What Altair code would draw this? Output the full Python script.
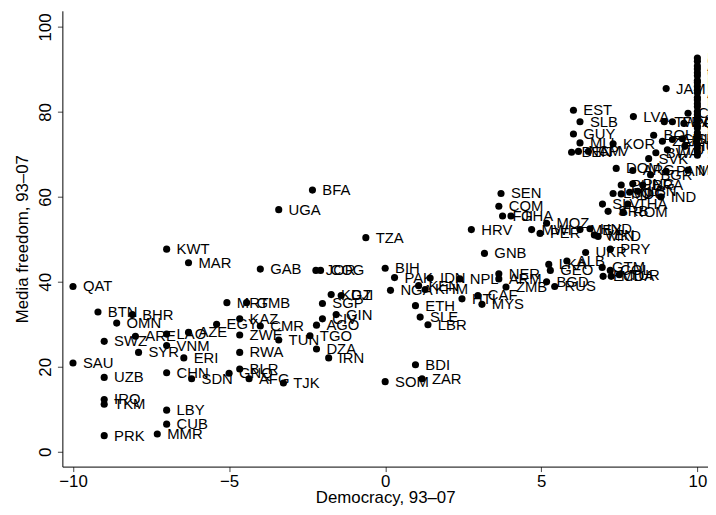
import altair as alt
import pandas as pd

codes = [
    "QAT","KWT","MAR","BTN","BHR","OMN","SWZ","ARE","LAO","AZE","EGY","SYR","VNM","ERI","SAU","UZB","CHN","SDN",
    "IRQ","TKM","LBY","CUB","MMR","PRK","MRT","GMB","KAZ","CMR","ZWE","TUN","RWA","GNQ","BLR","AFG","TJK",
    "KGZ","DJI","SGP","GIN","CIV","AGO","TGO","DZA","IRN","SOM","BDI","ZAR","BFA","UGA","TZA","GAB","JOR","COG",
    "BIH","PAK","NGA","IDN","KEN","KHM","ETH","SLE","LBR","NPL","HTI","CAF","MYS","NER","ARM","ZMB","GNB","HRV",
    "SEN","COM","FJI","GHA","MWI","PER","MOZ","LKA","GEO","ALB","BGD","RUS","UKR","PRY","MEX","HND","VEN","MKD",
    "GTM","COL","ECU","MDA","TUR","SLV","THA","SRB","ROM","PHL","PNG","BRA","LSO","MDG","NIC","LBN","IND",
    "DOM","ARG","BGR","PAN","MNG","BEN","NAM","CPV","EST","SLB","GUY","MLI","KOR","LVA","JAM","TWN","FRA","CRI",
    "POL","BOL","ZAF","CHL","ISR","BWA","SVK","LTU","HUN",
    "USA","CAN","AUS","NZL","GBR","IRL","NLD","BEL","LUX","DEU","AUT","CHE","DNK","NOR","SWE","FIN","ISL","ESP",
    "PRT","ITA","GRC","CYP","JPN","URY","MUS","TTO","CZE","SVN",
]
democracy = [
    -10.0,-7.0,-6.3,-9.2,-8.1,-8.6,-9.0,-8.0,-7.0,-6.3,-5.4,-7.9,-7.0,-6.45,-10.0,-9.0,-7.0,-6.2,
    -9.0,-9.0,-7.0,-7.0,-7.3,-9.0,-5.07,-4.44,-4.66,-4.0,-4.66,-3.41,-4.66,-5.0,-4.66,-4.36,-3.26,
    -1.73,-1.41,-2.01,-1.57,-2.01,-2.2,-2.41,-2.2,-1.81,0.0,0.97,1.18,-2.33,-3.41,-0.62,-4.0,-2.22,-2.07,
    0.0,0.3,0.17,1.44,1.07,1.28,0.97,1.12,1.37,2.39,2.46,2.97,3.10,3.64,3.64,3.87,3.18,2.76,
    3.71,3.64,3.76,4.03,4.69,4.96,5.17,5.24,5.29,5.82,5.17,5.43,6.42,7.21,6.24,6.56,6.70,6.82,
    6.95,7.21,6.98,7.24,7.5,6.96,7.77,7.14,7.62,7.56,7.93,8.25,7.30,7.56,7.83,8.09,8.83,
    7.4,7.93,8.5,9.0,9.7,5.97,6.19,6.51,6.03,6.24,6.03,6.24,7.30,7.95,9.0,8.94,9.20,9.7,
    9.57,8.6,8.88,9.2,9.52,8.67,8.44,9.04,9.6,
    10,10,10,10,10,10,10,10,10,10,10,10,10,10,10,10,10,10,
    10,10,10,10,10,10,10,10,10,10,
]
media = [
    38.9,47.7,44.5,32.9,32.3,30.3,26.0,27.2,27.7,28.1,30.0,23.4,25.0,22.1,20.9,17.5,18.6,17.2,
    12.3,11.2,9.8,6.5,4.2,3.8,35.1,35.1,31.3,29.6,27.5,26.3,23.4,18.5,19.5,17.2,16.2,
    37.0,36.8,34.9,32.3,31.3,29.8,27.3,24.2,22.1,16.5,20.5,17.2,61.6,57.0,50.4,43.0,42.7,42.7,
    43.2,41.0,38.0,40.9,39.1,38.2,34.4,31.7,29.9,40.7,36.0,36.8,34.7,41.9,40.7,38.8,46.7,52.3,
    60.8,57.8,55.5,55.5,52.3,51.4,53.8,44.1,42.7,44.9,40.0,38.9,46.9,47.7,52.3,52.5,51.0,50.7,
    43.4,42.7,41.3,41.3,41.7,58.3,58.3,56.6,56.4,62.8,63.1,62.8,60.8,60.7,61.1,61.3,60.0,
    66.7,66.2,65.2,66.0,66.3,70.5,70.7,70.7,80.4,77.7,74.8,72.7,72.5,78.9,85.5,77.7,77.7,79.7,
    77.3,74.5,73.1,73.5,73.7,70.4,69.0,71.1,71.9,
    92.7,91.9,90.8,90.1,89.2,88.5,87.4,86.9,86.0,85.1,84.5,83.4,82.8,81.9,81.2,80.1,79.4,78.6,
    77.9,76.8,76.2,75.1,74.3,73.6,72.4,71.5,70.6,69.8,
]

df = pd.DataFrame({"code": codes, "dem": democracy, "mf": media})

FONT = "Liberation Sans"

x = alt.X("dem:Q", title="Democracy, 93\u201307",
          scale=alt.Scale(domain=[-10.34, 10.34], nice=False, zero=False),
          axis=alt.Axis(values=[-10, -5, 0, 5, 10], grid=False, domainColor="#000000",
                        tickColor="#444444", tickSize=5, labelFont=FONT, labelFontSize=17,
                        labelColor="#000000", labelPadding=2, titleFont=FONT, titleFontSize=17,
                        titleFontWeight="normal", titleColor="#000000", titlePadding=0,
                        labelFlush=False))
y = alt.Y("mf:Q", title="Media freedom, 93\u201307",
          scale=alt.Scale(domain=[-3.49, 103.8], nice=False, zero=False),
          axis=alt.Axis(values=[0, 20, 40, 60, 80, 100], grid=False, domainColor="#000000",
                        tickColor="#444444", tickSize=5, labelFont=FONT, labelFontSize=17,
                        labelColor="#000000", labelAngle=270, labelAlign="center",
                        labelBaseline="bottom", labelPadding=3, titleFont=FONT, titleFontSize=17,
                        titleFontWeight="normal", titleColor="#000000", titlePadding=5,
                        labelFlush=False))

points = alt.Chart(df).mark_circle(size=52, color="#000000", opacity=1).encode(x=x, y=y)
texts = alt.Chart(df).mark_text(align="left", baseline="middle", dx=10, font=FONT,
                                fontSize=15, color="#000000").encode(x=x, y=y, text="code:N")

chart = (points + texts).properties(
    width=653, height=461,
    autosize=alt.AutoSizeParams(type="none"),
    padding={"left": 55, "top": 0, "right": 0, "bottom": 38},
    background="#ffffff",
).configure_view(stroke=None)

chart.save("out.html", embed_options={"renderer": "svg", "actions": False})
